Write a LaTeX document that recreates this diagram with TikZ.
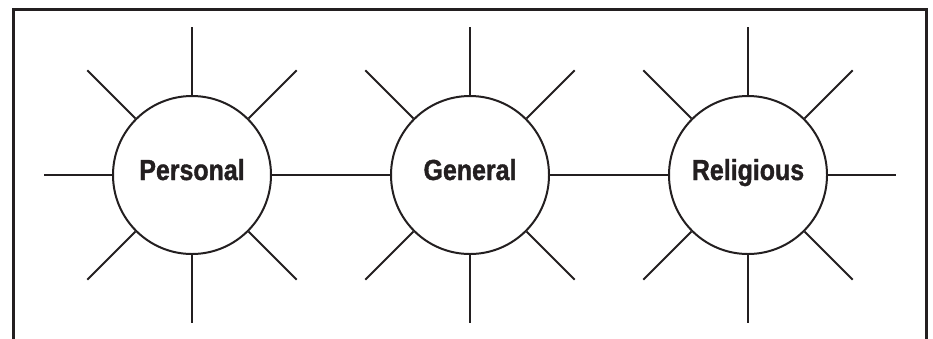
\documentclass[tikz,border=0pt]{standalone}
\usepackage{fontspec}
\newfontfamily\labfont[FakeStretch=0.86,FakeBold=1.2]{Liberation Sans Bold}
\definecolor{ink}{HTML}{231F20}
\begin{document}
\begin{tikzpicture}[x=1pt,y=1pt,
  hub/.style={circle,draw=ink,line width=2pt,minimum size=158pt,inner sep=0pt,fill=white},
  ray/.style={draw=ink,line width=2pt},
  frame/.style={draw=ink,line width=3pt},
  lab/.style={font=\labfont\fontsize{29}{34}\selectfont,text=ink,anchor=base,inner sep=0pt}]
\useasboundingbox (0,0) rectangle (933,-338);
\draw[frame] (13.5,-340) -- (13.5,-9.5) -- (926,-9.5) -- (926,-340);
\node[hub] (p) at (192,-175) {};
\node[hub] (g) at (470,-175) {};
\node[hub] (r) at (748,-175) {};
\foreach \n in {p,g,r}{
  \foreach \a in {0,45,...,315}{
    \draw[ray] (\n.\a) -- ([shift={(\a:148)}]\n.center);
  }
}
\node[lab] (pt) at (192,-180) {Personal};
\node[lab] (gt) at (470,-180) {General};
\node[lab] (rt) at (748,-180) {Religious};
\end{tikzpicture}
\end{document}
